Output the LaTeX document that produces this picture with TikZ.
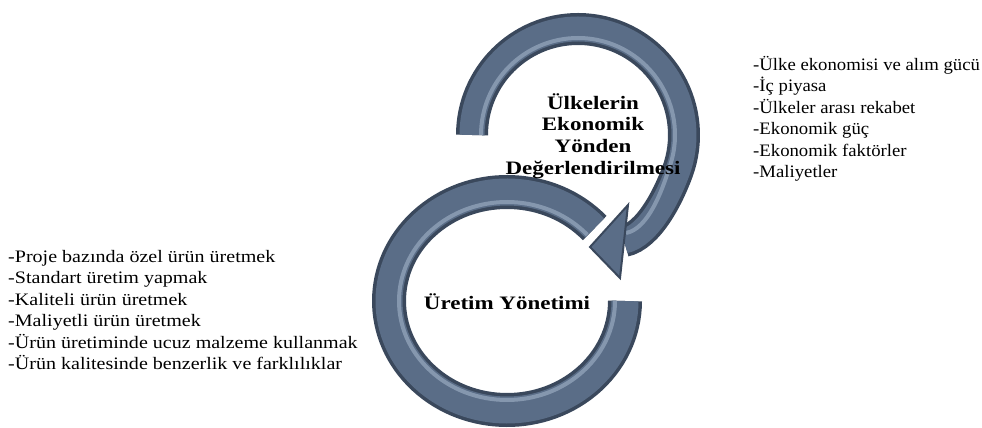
\documentclass[tikz,border=0pt]{standalone}
\usepackage{fontspec}
\setmainfont{Liberation Serif}
\usepackage{tikz}
\usetikzlibrary{arrows.meta,positioning}
\definecolor{ringdark}{HTML}{3A485C}
\definecolor{ringmid}{HTML}{5A6D87}
\definecolor{ringlight}{HTML}{A9BACF}

\begin{document}
\begin{tikzpicture}[x=1pt, y=1pt,
    ring/.style={draw=ringdark, line width=3.5pt, double=ringmid, double distance=#1},
    ridge/.style={draw=ringlight, line width=4pt, opacity=.55},
    tiphead/.style={fill=ringmid, draw=ringdark, line width=2pt, line join=miter},
    title/.style={font=\fontsize{19}{21.7}\selectfont\bfseries, align=center,
                  xscale=1.21, inner sep=0pt},
    items/.style={font=\fontsize{17.5}{21.5}\selectfont, align=left,
                  inner sep=0pt, anchor=north west}
  ]
  \useasboundingbox (0,0) rectangle (982,428);
  \coordinate (uc) at (578,293);
  \coordinate (lc) at (507,127);
  \coordinate (bend) at (677.6,256.7);
  \coordinate (head) at (624,187);
  \coordinate (tippt) at (590,181);
  \coordinate (barbA) at (628,223);
  \coordinate (barbB) at (620,150);

  % lower ring
  \draw[ring=27pt] (lc) ++(42:118 and 109)
    arc[start angle=42, end angle=360, x radius=118, y radius=109];
  \draw[ridge] (lc) ++(42:108 and 99)
    arc[start angle=42, end angle=360, x radius=108, y radius=99];

  % upper ring with its head
  \draw[ring=25pt] (uc) ++(180:106) arc[start angle=180, end angle=-20, radius=106]
    .. controls (669,233) and (649,192) .. (head);
  \draw[ridge] (uc) ++(180:97) arc[start angle=180, end angle=-20, radius=97]
    .. controls (662,237) and (648,199) .. (626,195);
  \filldraw[tiphead] (tippt) -- (barbA) -- (barbB) -- cycle;

  \node[title] (eco) at (593,292) {Ülkelerin\\Ekonomik\\Yönden\\Değerlendirilmesi};
  \node[title, anchor=base] (prod) at (507,118) {Üretim Yönetimi};

  \node[items, xscale=1.07] (ecolist) at (753,372) {-Ülke ekonomisi ve alım gücü\\-İç piyasa\\-Ülkeler arası rekabet\\-Ekonomik güç\\-Ekonomik faktörler\\-Maliyetler};
  \node[items, xscale=1.145] (prodlist) at (8,178) {-Proje bazında özel ürün üretmek\\-Standart üretim yapmak\\-Kaliteli ürün üretmek\\-Maliyetli ürün üretmek\\-Ürün üretiminde ucuz malzeme kullanmak\\-Ürün kalitesinde benzerlik ve farklılıklar};
\end{tikzpicture}
\end{document}
